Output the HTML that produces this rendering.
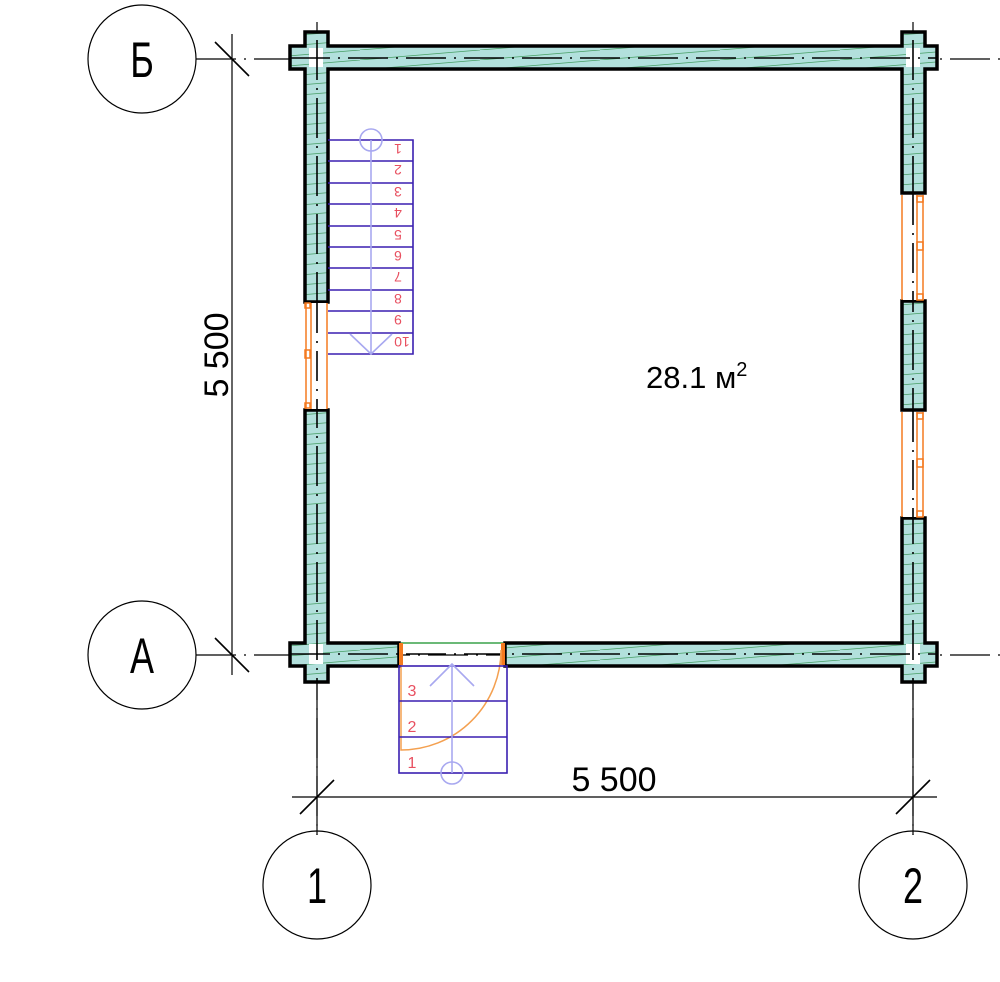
<!DOCTYPE html>
<html><head><meta charset="utf-8"><style>body{margin:0;background:#fff}svg{display:block}</style></head>
<body>
<svg width="1000" height="982" viewBox="0 0 1000 982" xmlns="http://www.w3.org/2000/svg" font-family="Liberation Sans, sans-serif">
<defs>
<pattern id="h" patternUnits="userSpaceOnUse" width="120" height="10">
<rect width="120" height="10" fill="#b2e0dc"/>
<line x1="0" y1="10" x2="120" y2="0" stroke="#4aa068" stroke-width="0.8"/>
</pattern>
</defs>
<g stroke="#000" stroke-width="1.2" fill="none">
<line x1="196" y1="59" x2="1000" y2="59" stroke-dasharray="40 8 2 8"/>
<line x1="196" y1="655" x2="1000" y2="655" stroke-dasharray="40 8 2 8"/>
<line x1="317" y1="22" x2="317" y2="835" stroke-dasharray="40 8 2 8"/>
<line x1="913" y1="22" x2="913" y2="835" stroke-dasharray="40 8 2 8"/>
<circle cx="142" cy="59" r="54"/>
<circle cx="142" cy="655" r="54"/>
<circle cx="317" cy="885" r="54"/>
<circle cx="913" cy="885" r="54"/>
<line x1="232" y1="34" x2="232" y2="675"/>
<line x1="215" y1="42" x2="249" y2="76" stroke-width="1.6"/>
<line x1="215" y1="638" x2="249" y2="672" stroke-width="1.6"/>
<line x1="292" y1="797" x2="937" y2="797"/>
<line x1="300" y1="814" x2="334" y2="780" stroke-width="1.6"/>
<line x1="896" y1="814" x2="930" y2="780" stroke-width="1.6"/>
<line x1="317" y1="683" x2="317" y2="835"/>
<line x1="913" y1="683" x2="913" y2="835"/>
</g>
<g font-size="50" text-anchor="middle" fill="#000">
<text x="142" y="77" transform="translate(142 0) scale(0.72 1) translate(-142 0)">Б</text>
<text x="142" y="673" transform="translate(142 0) scale(0.72 1) translate(-142 0)">А</text>
<text x="317" y="903" transform="translate(317 0) scale(0.72 1) translate(-317 0)">1</text>
<text x="913" y="903" transform="translate(913 0) scale(0.72 1) translate(-913 0)">2</text>
</g>
<text x="614" y="791" font-size="34" text-anchor="middle">5 500</text>
<text x="0" y="0" font-size="34" text-anchor="middle" transform="translate(228 355) rotate(-90)">5 500</text>
<text x="646" y="388" font-size="31">28.1 м<tspan font-size="20" dy="-12">2</tspan></text>
<g fill="url(#h)" stroke="#000" stroke-width="3.5" stroke-linejoin="miter">
<path d="M305,32H328V46H902V32H925V46H937V69H925V193H902V69H328V302H305V69H290V46H305Z"/>
<path d="M305,410H328V643H399V666H328V682H305V666H290V643H305Z"/>
<rect x="902" y="301" width="23" height="109"/>
<path d="M902,518H925V643H937V666H925V682H902V666H505V643H902Z"/>
</g>
<rect x="309" y="48" width="14" height="19" fill="#fff"/>
<rect x="906" y="48" width="14" height="19" fill="#fff"/>
<rect x="309" y="644" width="14" height="20" fill="#fff"/>
<rect x="906" y="644" width="14" height="20" fill="#fff"/>
<g stroke="#000" stroke-width="1.6" stroke-dasharray="40 8 2 8" fill="none">
<line x1="317" y1="40" x2="317" y2="682"/>
<line x1="913" y1="40" x2="913" y2="682"/>
<line x1="290" y1="58" x2="937" y2="58"/>
<line x1="290" y1="654" x2="937" y2="654"/>
</g>
<g stroke="#f47a20" fill="none" stroke-width="1.5">
<rect x="306" y="303" width="21" height="106" fill="#fff" stroke="none"/>
<line x1="306" y1="303" x2="306" y2="409"/><line x1="311" y1="303" x2="311" y2="409"/><line x1="327" y1="303" x2="327" y2="409"/>
<rect x="305" y="303" width="5" height="5"/><rect x="305" y="350" width="5" height="8"/><rect x="305" y="403" width="5" height="5"/>
<rect x="903" y="195" width="21" height="105" fill="#fff" stroke="none"/>
<rect x="903" y="412" width="21" height="105" fill="#fff" stroke="none"/>
<line x1="902" y1="195" x2="902" y2="300"/><line x1="917" y1="195" x2="917" y2="300"/><line x1="923" y1="195" x2="923" y2="300"/>
<rect x="917" y="196" width="6" height="6"/><rect x="917" y="242" width="6" height="8"/><rect x="917" y="294" width="6" height="6"/>
<line x1="902" y1="412" x2="902" y2="517"/><line x1="917" y1="412" x2="917" y2="517"/><line x1="923" y1="412" x2="923" y2="517"/>
<rect x="917" y="413" width="6" height="6"/><rect x="917" y="459" width="6" height="8"/><rect x="917" y="511" width="6" height="6"/>
</g>
<g stroke="#000" stroke-width="1.6" stroke-dasharray="30 8 2 8">
<line x1="317" y1="303" x2="317" y2="409"/><line x1="913" y1="195" x2="913" y2="300"/><line x1="913" y1="412" x2="913" y2="517"/>
</g>
<line x1="401" y1="643" x2="503" y2="643" stroke="#3aa24a" stroke-width="1.5"/>
<rect x="399" y="643" width="4" height="22" fill="#f47a20"/>
<rect x="501" y="643" width="4" height="22" fill="#f47a20"/>
<path d="M401,665V750A100,100 0 0 0 501,650V665" stroke="#f4a050" stroke-width="1.5" fill="none"/>
<g stroke="#3a1fb0" stroke-width="1.6" fill="none">
<path d="M328,140H413V354H328"/>
<line x1="328" y1="161" x2="413" y2="161"/><line x1="328" y1="183" x2="413" y2="183"/><line x1="328" y1="204" x2="413" y2="204"/><line x1="328" y1="226" x2="413" y2="226"/><line x1="328" y1="247" x2="413" y2="247"/><line x1="328" y1="268" x2="413" y2="268"/><line x1="328" y1="290" x2="413" y2="290"/><line x1="328" y1="311" x2="413" y2="311"/><line x1="328" y1="333" x2="413" y2="333"/>
<rect x="399" y="666" width="108" height="107"/>
<line x1="399" y1="701" x2="507" y2="701"/><line x1="399" y1="737" x2="507" y2="737"/>
</g>
<g stroke="#a8a8f0" stroke-width="1.6" fill="none">
<circle cx="371" cy="140" r="11"/><line x1="371" y1="140" x2="371" y2="354"/><path d="M350,334L371,354L392,334"/>
<circle cx="452" cy="773" r="11"/><line x1="452" y1="664" x2="452" y2="773"/><path d="M430,686L452,664L474,686"/>
</g>
<g fill="#e85060" font-size="14" text-anchor="middle">
<text transform="translate(398 144) rotate(180)">1</text>
<text transform="translate(398 165) rotate(180)">2</text>
<text transform="translate(398 187) rotate(180)">3</text>
<text transform="translate(398 208) rotate(180)">4</text>
<text transform="translate(398 230) rotate(180)">5</text>
<text transform="translate(398 251) rotate(180)">6</text>
<text transform="translate(398 272) rotate(180)">7</text>
<text transform="translate(398 294) rotate(180)">8</text>
<text transform="translate(398 315) rotate(180)">9</text>
<text transform="translate(402 337) rotate(180)">10</text>
</g>
<g fill="#e85060" font-size="16" text-anchor="middle">
<text x="412" y="696">3</text><text x="412" y="732">2</text><text x="412" y="768">1</text>
</g>
</svg>
</body></html>
